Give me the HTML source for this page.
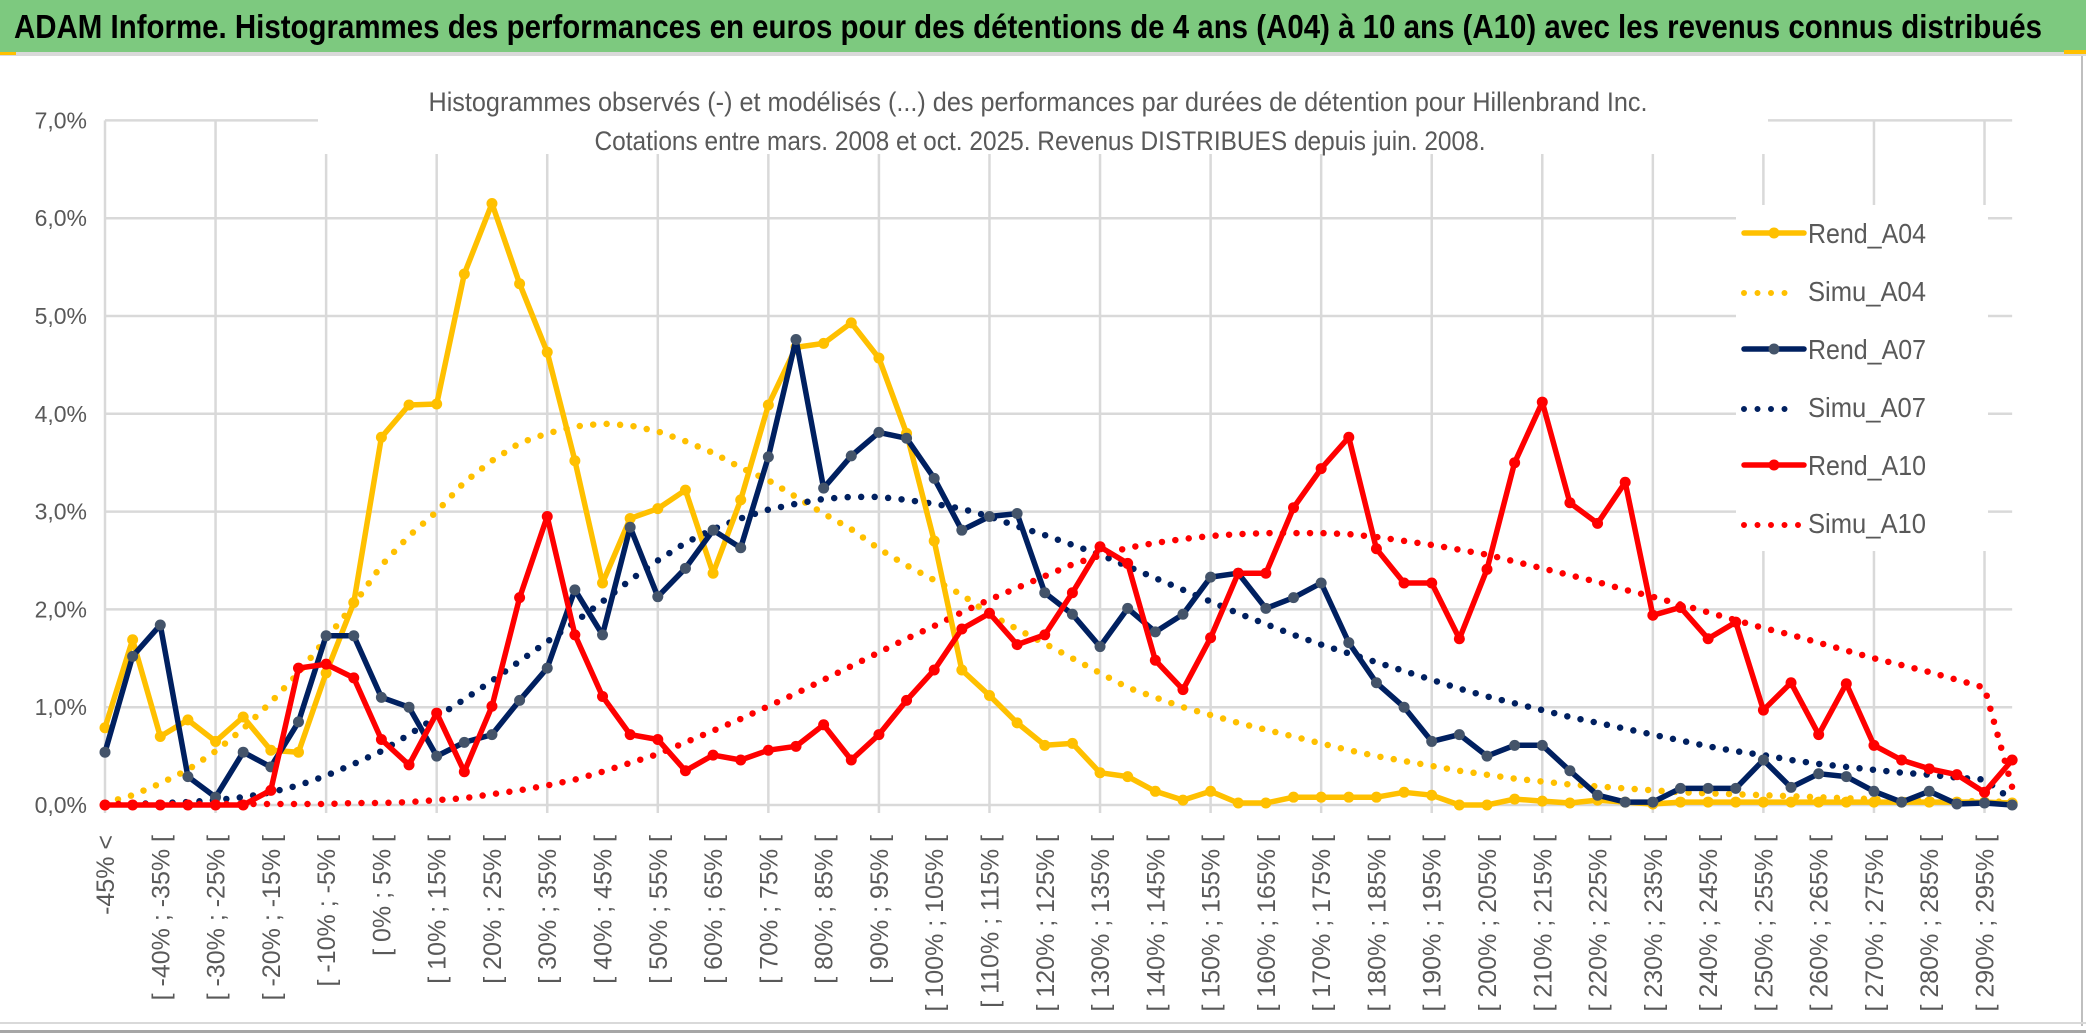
<!DOCTYPE html>
<html><head><meta charset="utf-8">
<style>
html,body{margin:0;padding:0;background:#fff;}
svg{display:block;}
text{font-family:"Liberation Sans",sans-serif;}
</style></head>
<body>
<svg id="chart" width="2086" height="1033" viewBox="0 0 2086 1033" xmlns="http://www.w3.org/2000/svg">
  <rect x="0" y="0" width="2086" height="1033" fill="#ffffff"/>
  <rect x="0" y="0" width="2086" height="52" fill="#7dc97f"/>
  <rect x="0" y="52" width="2086" height="4" fill="#d9d9d9"/>
  <rect x="0" y="52" width="16" height="3" fill="#ffc000"/>
  <rect x="2064" y="50" width="22" height="4" fill="#ffc000"/>
  <text x="14" y="38" font-size="33" font-weight="bold" fill="#000" textLength="2028" lengthAdjust="spacingAndGlyphs">ADAM Informe. Histogrammes des performances en euros pour des détentions de 4 ans (A04) à 10 ans (A10) avec les revenus connus distribués</text>
  <rect x="2081" y="56" width="2" height="970" fill="#bfbfbf"/>
  <rect x="0" y="1022" width="2086" height="2" fill="#d9d9d9"/>
  <rect x="0" y="1030" width="2086" height="3" fill="#a6a6a6"/>
  <g id="grid"></g>
  <g id="yaxis"></g>
  <g id="xaxis"></g>
  <rect x="318" y="80" width="1450" height="74" fill="#fff"/>
  <text x="1038" y="111" font-size="27" fill="#595959" text-anchor="middle" textLength="1219" lengthAdjust="spacingAndGlyphs">Histogrammes observés (-) et modélisés (...) des performances par durées de détention pour Hillenbrand Inc.</text>
  <text x="1040" y="150" font-size="27" fill="#595959" text-anchor="middle" textLength="891" lengthAdjust="spacingAndGlyphs">Cotations entre mars. 2008 et oct. 2025. Revenus DISTRIBUES depuis juin. 2008.</text>
  <g id="series"></g>
  <rect x="1736" y="205" width="252" height="346" fill="#fff"/>
  <g id="legend"></g>
</svg>
<script>
const categories = ["-45% <"];
for (let s = -45; s < 300; s += 5) categories.push("[ " + s + "% ; " + (s + 5) + "% [");
const yTicks = [0, 1, 2, 3, 4, 5, 6, 7];
const yTickLabels = ["0,0%", "1,0%", "2,0%", "3,0%", "4,0%", "5,0%", "6,0%", "7,0%"];
const seriesNames = ["Rend_A04", "Simu_A04", "Rend_A07", "Simu_A07", "Rend_A10", "Simu_A10"];
const rendA04 = [0.79,1.69,0.70,0.87,0.65,0.90,0.56,0.54,1.35,2.07,3.76,4.09,4.10,5.43,6.15,5.33,4.63,3.52,2.27,2.93,3.03,3.22,2.37,3.12,4.09,4.68,4.72,4.93,4.57,3.80,2.70,1.38,1.12,0.84,0.61,0.63,0.33,0.29,0.14,0.05,0.14,0.02,0.02,0.08,0.08,0.08,0.08,0.13,0.10,0.00,0.00,0.06,0.04,0.02,0.05,0.03,0.01,0.03,0.03,0.03,0.03,0.03,0.03,0.03,0.03,0.03,0.03,0.03,0.03,0.02];
const simuA04 = [0.02,0.10,0.22,0.36,0.55,0.78,1.05,1.35,1.70,2.05,2.45,2.75,3.00,3.30,3.52,3.70,3.80,3.87,3.90,3.88,3.82,3.72,3.60,3.45,3.32,3.15,2.98,2.82,2.62,2.45,2.30,2.15,1.95,1.80,1.65,1.50,1.35,1.20,1.10,1.00,0.92,0.84,0.77,0.70,0.63,0.56,0.50,0.45,0.40,0.35,0.31,0.27,0.24,0.21,0.19,0.17,0.15,0.13,0.12,0.11,0.10,0.09,0.08,0.07,0.06,0.05,0.05,0.04,0.04,0.03];
const rendA07 = [0.54,1.52,1.84,0.29,0.08,0.54,0.39,0.85,1.73,1.73,1.10,1.00,0.50,0.64,0.72,1.07,1.40,2.20,1.74,2.84,2.13,2.42,2.81,2.63,3.56,4.76,3.24,3.57,3.81,3.75,3.34,2.81,2.95,2.98,2.17,1.95,1.62,2.01,1.77,1.95,2.33,2.37,2.01,2.12,2.27,1.66,1.25,1.00,0.65,0.72,0.50,0.61,0.61,0.35,0.10,0.03,0.03,0.17,0.17,0.17,0.46,0.18,0.32,0.29,0.14,0.03,0.14,0.01,0.02,0.00];
const simuA07 = [0.01,0.01,0.02,0.03,0.05,0.08,0.13,0.20,0.30,0.42,0.55,0.72,0.90,1.08,1.27,1.47,1.67,1.87,2.08,2.30,2.50,2.68,2.82,2.93,3.02,3.08,3.13,3.15,3.15,3.12,3.08,3.03,2.95,2.85,2.76,2.66,2.56,2.44,2.32,2.20,2.08,1.96,1.85,1.74,1.64,1.55,1.46,1.37,1.28,1.19,1.11,1.04,0.97,0.90,0.84,0.78,0.72,0.66,0.60,0.55,0.51,0.46,0.42,0.39,0.36,0.33,0.31,0.28,0.26,0.05];
const rendA10 = [0,0,0,0,0,0,0.15,1.40,1.44,1.30,0.67,0.41,0.94,0.34,1.01,2.12,2.95,1.74,1.11,0.72,0.67,0.35,0.51,0.46,0.56,0.60,0.82,0.46,0.72,1.07,1.38,1.80,1.96,1.64,1.74,2.17,2.64,2.47,1.48,1.18,1.71,2.37,2.37,3.04,3.44,3.76,2.62,2.27,2.27,1.70,2.41,3.50,4.12,3.09,2.88,3.30,1.94,2.02,1.70,1.87,0.97,1.25,0.72,1.24,0.61,0.46,0.37,0.31,0.13,0.46];
const simuA10 = [0.01,0.01,0.01,0.01,0.01,0.01,0.01,0.01,0.01,0.02,0.02,0.03,0.05,0.07,0.11,0.15,0.20,0.26,0.34,0.43,0.52,0.64,0.76,0.88,1.01,1.14,1.28,1.42,1.56,1.70,1.83,1.97,2.10,2.22,2.34,2.46,2.55,2.63,2.68,2.72,2.75,2.77,2.78,2.78,2.78,2.77,2.74,2.70,2.66,2.61,2.56,2.49,2.42,2.35,2.28,2.20,2.13,2.05,1.97,1.89,1.81,1.74,1.66,1.58,1.50,1.43,1.36,1.28,1.20,0.18];

const NS = "http://www.w3.org/2000/svg";
const X0 = 105, DX = 27.64, Y0 = 805, DY = 97.8;
function xScale(i) { return X0 + i * DX; }
function yScale(v) { return Y0 - v * DY; }
function mk(tag, attrs, parent) {
  const e = document.createElementNS(NS, tag);
  for (const k in attrs) e.setAttribute(k, attrs[k]);
  parent.appendChild(e);
  return e;
}
const grid = document.getElementById("grid");
const yaxis = document.getElementById("yaxis");
const xaxis = document.getElementById("xaxis");
const seriesG = document.getElementById("series");
const legend = document.getElementById("legend");
const xEnd = xScale(categories.length - 1);

yTicks.forEach((t, k) => {
  const ln = mk("line", {x1: X0, x2: xEnd, y1: yScale(t), y2: yScale(t), stroke: "#d9d9d9", "stroke-width": 2.5}, grid);
  
  
  const tx = mk("text", {x: 87, y: yScale(t) + 8, "font-size": 23, fill: "#595959", "text-anchor": "end"}, yaxis);
  tx.textContent = yTickLabels[k];
  
  
});
for (let i = 0; i < categories.length; i += 4) {
  const ln = mk("line", {x1: xScale(i), x2: xScale(i), y1: yScale(7), y2: Y0 + 8, stroke: "#d9d9d9", "stroke-width": 2.5}, grid);
  
  
}
categories.forEach((c, i) => {
  if (i % 2 !== 0) return;
  const x = xScale(i), y = 835;
  const tx = mk("text", {x: x, y: y, "font-size": 25, fill: "#595959", "text-anchor": "end", transform: "rotate(-90 " + x + " " + y + ")", dy: "9"}, xaxis);
  tx.textContent = c;
  
  
});

function pts(arr) { return arr.map((v, i) => xScale(i).toFixed(1) + "," + yScale(v).toFixed(1)).join(" "); }
function dotted(arr, color, name) {
  const p = mk("polyline", {points: pts(arr), fill: "none", stroke: color, "stroke-width": 6.5, "stroke-linecap": "round", "stroke-dasharray": "0 13.5"}, seriesG);
  
  
}
function solid(arr, color, mcolor, name) {
  const p = mk("polyline", {points: pts(arr), fill: "none", stroke: color, "stroke-width": 5.5, "stroke-linejoin": "round"}, seriesG);
  
  
  arr.forEach((v, i) => {
    const c = mk("circle", {cx: xScale(i), cy: yScale(v), r: 5.5, fill: mcolor}, seriesG);
    
    
  });
}
dotted(simuA04, "#ffc000", "simu-a04-line");
dotted(simuA07, "#002060", "simu-a07-line");
dotted(simuA10, "#ff0000", "simu-a10-line");
solid(rendA04, "#ffc000", "#ffc000", "rend-a04-line");
solid(rendA07, "#002060", "#44546a", "rend-a07-line");
solid(rendA10, "#ff0000", "#ff0000", "rend-a10-line");

const legColors = ["#ffc000", "#ffc000", "#002060", "#002060", "#ff0000", "#ff0000"];
const legMarker = ["#ffc000", null, "#44546a", null, "#ff0000", null];
const legY = [233, 291, 349, 407, 465, 523];
seriesNames.forEach((n, k) => {
  const g = mk("g", {}, legend);
  
  
  const y = legY[k];
  if (k % 2 === 0) {
    mk("line", {x1: 1744, x2: 1804, y1: y, y2: y, stroke: legColors[k], "stroke-width": 5.5, "stroke-linecap": "round"}, g);
    mk("circle", {cx: 1774, cy: y, r: 5.5, fill: legMarker[k]}, g);
  } else {
    mk("line", {x1: 1744, x2: k === 5 ? 1800 : 1790, y1: y + 2, y2: y + 2, stroke: legColors[k], "stroke-width": 6, "stroke-linecap": "round", "stroke-dasharray": "0 13.5"}, g);
  }
  const t = mk("text", {x: 1808, y: y + 10, "font-size": 28, fill: "#595959", textLength: 118, lengthAdjust: "spacingAndGlyphs"}, g);
  t.textContent = n;
});
</script>
</body></html>
